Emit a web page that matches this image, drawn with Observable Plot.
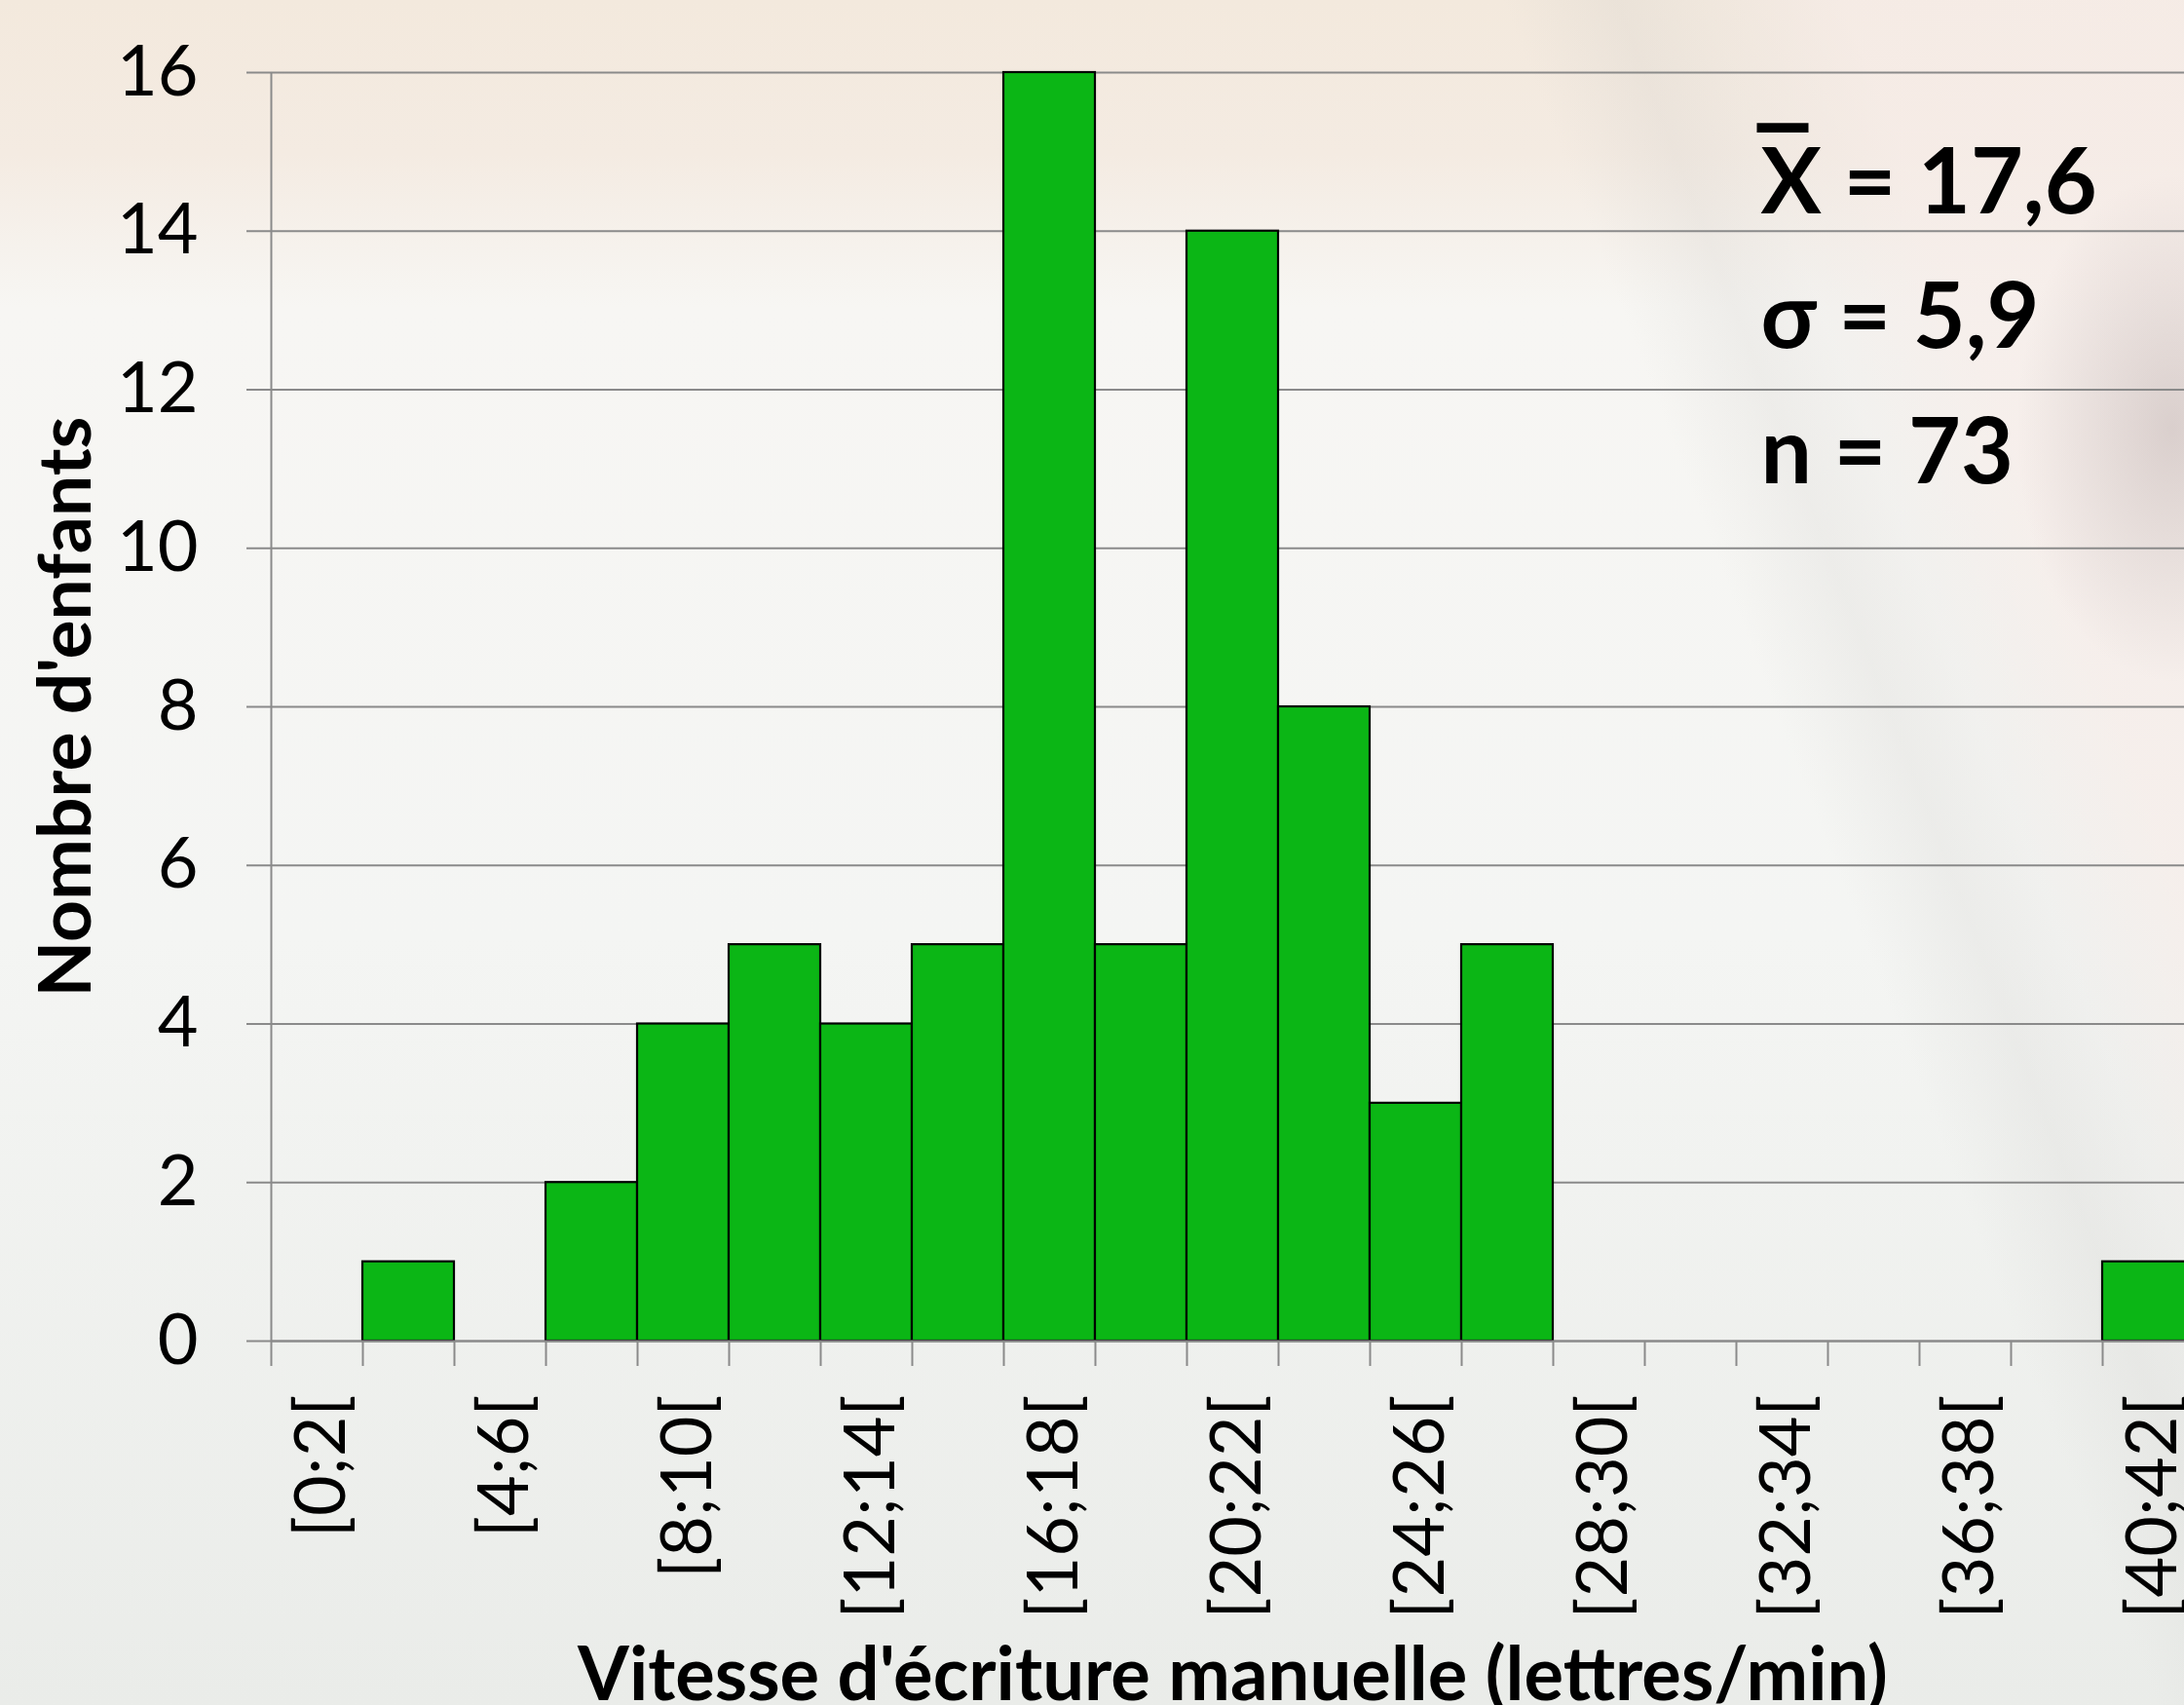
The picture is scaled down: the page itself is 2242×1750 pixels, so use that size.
<!DOCTYPE html>
<html>
<head>
<meta charset="utf-8">
<script src="https://cdn.jsdelivr.net/npm/d3@7"></script>
<script src="https://cdn.jsdelivr.net/npm/@observablehq/plot@0.6"></script>
<style>
  html, body { margin: 0; padding: 0; width: 2242px; height: 1750px; overflow: hidden; }
  body {
    background:
      radial-gradient(ellipse 160px 260px at 2230px 440px, rgba(175,160,160,0.4), rgba(175,160,160,0) 100%),
      linear-gradient(69deg, rgba(0,0,0,0) 76%, rgba(205,203,200,0.22) 80%, rgba(225,222,220,0.2) 83%, rgba(246,236,232,0.7) 88%, rgba(246,236,232,0.8) 100%),
      linear-gradient(180deg, #f3e9dd 0%, #f4ebe2 9%, #f7f6f3 18%, #f4f5f3 55%, #eaece9 100%);
  }
  #chart { width: 2242px; height: 1750px; overflow: hidden; position: relative; }
  #chart svg { max-width: none; overflow: hidden; display: block; }
</style>
</head>
<body>
<div id="chart"></div>
<script>
// ---- data ----
const binStart = [0, 2, 4, 6, 8, 10, 12, 14, 16, 18, 20, 22, 24, 26, 28, 30, 32, 34, 36, 38, 40];
const binEnd   = [2, 4, 6, 8, 10, 12, 14, 16, 18, 20, 22, 24, 26, 28, 30, 32, 34, 36, 38, 40, 42];
const counts   = [0, 1, 0, 2, 4, 5, 4, 5, 16, 5, 14, 8, 3, 5, 0, 0, 0, 0, 0, 0, 1];
const binLabels = ["[0;2[", "[2;4[", "[4;6[", "[6;8[", "[8;10[", "[10;12[", "[12;14[", "[14;16[",
  "[16;18[", "[18;20[", "[20;22[", "[22;24[", "[24;26[", "[26;28[", "[28;30[", "[30;32[",
  "[32;34[", "[34;36[", "[36;38[", "[38;40[", "[40;42["];
const shownLabels = ["[0;2[", "[4;6[", "[8;10[", "[12;14[", "[16;18[", "[20;22[", "[24;26[",
  "[28;30[", "[32;34[", "[36;38[", "[40;42["];
const yTicks = [0, 2, 4, 6, 8, 10, 12, 14, 16];
const boundaryTicks = [0, 2, 4, 6, 8, 10, 12, 14, 16, 18, 20, 22, 24, 26, 28, 30, 32, 34, 36, 38, 40, 42];
const statLines = ["X = 17,6", "σ = 5,9", "n = 73"];
const overlineMark = "‾";
const xTitle = "Vitesse d'écriture manuelle (lettres/min)";
const yTitle = "Nombre d'enfants";

const bins = binStart.map((lo, i) => ({lo, hi: binEnd[i], count: counts[i], label: binLabels[i]}));
const labelled = bins.filter(b => shownLabels.includes(b.label));

const gridColor = "#8a8a8a";
const font = "Lato, 'Open Sans', sans-serif";

const chart = Plot.plot({
  width: 2242,
  height: 1750,
  marginLeft: 278,
  marginRight: -10,
  marginTop: 74,
  marginBottom: 374,
  x: {domain: [0, 42]},
  y: {domain: [0, 16]},
  style: {background: "transparent", fontFamily: font, color: "black"},
  marks: [
    Plot.gridY(yTicks, {stroke: gridColor, strokeOpacity: 1, strokeWidth: 2}),
    Plot.axisY(yTicks, {tickSize: 25, tickPadding: 50, fontSize: 72, stroke: gridColor, strokeWidth: 2, fill: "black", label: null, tickFormat: d => String(d)}),
    Plot.rect(bins.filter(d => d.count > 0), {x1: "lo", x2: "hi", y1: () => 0, y2: "count", fill: "#0bb615", stroke: "black", strokeWidth: 2.2}),
    Plot.ruleY([0], {stroke: gridColor, strokeWidth: 2}),
    Plot.ruleX([0], {stroke: gridColor, strokeWidth: 2}),
    Plot.axisX(boundaryTicks, {tickSize: 26, tickFormat: () => "", stroke: gridColor, strokeWidth: 2, label: null}),
    Plot.text(labelled, {x: d => (d.lo + d.hi) / 2, text: "label", frameAnchor: "bottom", rotate: -90, textAnchor: "end", lineAnchor: "bottom", dy: 55, dx: 28, fontSize: 72}),
    Plot.text([yTitle], {frameAnchor: "left", rotate: -90, textAnchor: "middle", lineAnchor: "bottom", dx: -186, fontSize: 75, fontWeight: "bold"}),
    Plot.text([xTitle], {frameAnchor: "bottom", textAnchor: "middle", lineAnchor: "bottom", dy: 368, fontSize: 76, fontWeight: "bold"}),
    Plot.text([statLines.join("\n")], {frameAnchor: "top-left", textAnchor: "start", lineAnchor: "top", lineHeight: 1.49, dx: 1529, dy: 46, fontSize: 93, fontWeight: "bold"}),
    Plot.text([overlineMark], {frameAnchor: "top-left", textAnchor: "start", lineAnchor: "top", dx: 1525, dy: 56, fontSize: 106, fontWeight: "bold", fontFamily: "DejaVu Sans"})
  ]
});
document.getElementById("chart").appendChild(chart);
</script>
</body>
</html>
